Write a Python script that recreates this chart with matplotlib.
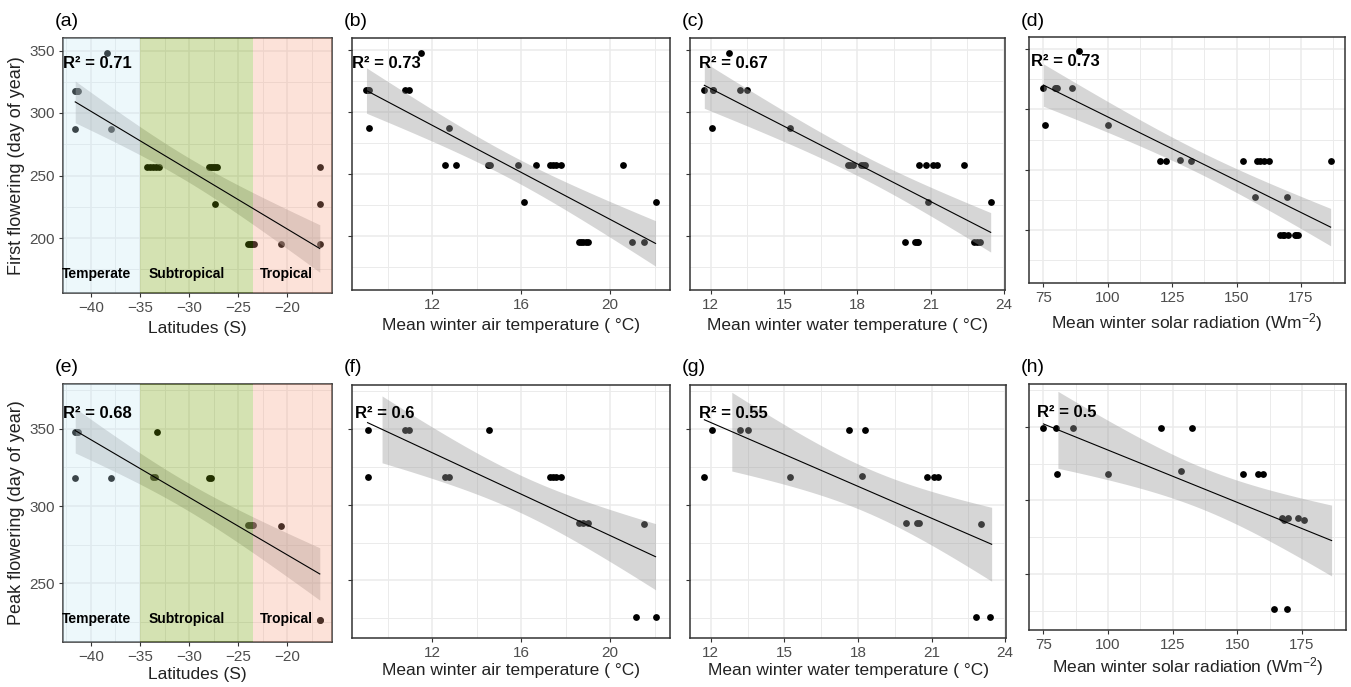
import matplotlib
matplotlib.use("Agg")
import matplotlib.pyplot as plt
import matplotlib.ticker as mticker
import numpy as np

plt.rcParams.update({
    "font.family": ["Liberation Sans", "DejaVu Sans"],
    "mathtext.fontset": "custom",
    "mathtext.rm": "Liberation Sans",
    "mathtext.it": "Liberation Sans:italic",
    "mathtext.bf": "Liberation Sans:bold",
    "axes.edgecolor": "#333333",
    "axes.linewidth": 1.1,
    "xtick.color": "#333333",
    "ytick.color": "#333333",
    "xtick.labelcolor": "#4d4d4d",
    "ytick.labelcolor": "#4d4d4d",
})

# ---- first flowering (top row) ----
FF_LAT = [-38.4, -41.6, -41.5, -41.45, -41.4, -41.3, -41.6, -38.0,
          -34.3, -34.0, -33.7, -33.4, -33.1, -28.0, -27.8, -27.6, -27.4, -27.2, -16.7,
          -27.4, -16.7, -24.0, -23.8, -23.7, -23.6, -23.4, -20.6, -16.7]
FF_LAT_DOY = [348, 318, 318, 318, 318, 318, 287, 287,
              257, 257, 257, 257, 257, 257, 257, 257, 257, 257, 257,
              227, 227, 195, 195, 195, 195, 195, 195, 195]

FF_AIR = [11.5, 9.05, 9.1, 9.15, 10.8, 10.95, 9.15, 12.75,
          12.6, 13.08, 14.5, 14.6, 15.84, 16.65, 17.3, 17.45, 17.56, 17.8, 20.6,
          16.14, 22.04, 18.6, 18.7, 18.8, 18.9, 19.0, 21.0, 21.5]
FF_AIR_DOY = FF_LAT_DOY

FF_WATER = [12.75, 11.74, 12.08, 12.1, 13.18, 13.5, 12.06, 15.24,
            17.62, 17.7, 17.8, 18.15, 18.22, 18.3, 20.5, 20.8, 21.1, 21.25, 22.36,
            20.9, 23.45, 19.94, 20.37, 20.42, 20.47, 22.77, 22.9, 23.03]
FF_WATER_DOY = FF_LAT_DOY

FF_SOLAR = [88.8, 75.0, 79.5, 80.0, 80.2, 86.2, 75.5, 100.0,
            120.4, 122.5, 127.9, 132.4, 152.4, 157.9, 159.2, 160.5, 162.7, 186.5,
            157.2, 169.4, 167.0, 168.0, 168.5, 169.8, 172.5, 173.0, 174.0]
FF_SOLAR_DOY = [348, 318, 318, 318, 318, 318, 287, 287,
                257, 257, 258, 257, 257, 257, 257, 257, 257, 257,
                227, 227, 196, 196, 196, 196, 196, 196, 196]

# ---- peak flowering (bottom row) ----
PF_LAT = [-41.6, -41.5, -41.4, -41.3, -33.3, -41.6, -38.0, -33.7, -33.5, -28.0, -27.8,
          -24.0, -23.8, -23.6, -23.5, -20.6, -16.7, -16.7]
PF_LAT_DOY = [348, 348, 348, 348, 348, 318, 318, 319, 319, 318, 318,
              288, 288, 288, 288, 287, 226, 226]

PF_AIR = [9.12, 10.8, 10.95, 14.54, 9.1, 12.6, 12.75, 17.3, 17.45, 17.56, 17.8,
          18.6, 18.8, 19.0, 21.5, 21.14, 22.04]
PF_AIR_DOY = [349, 349, 349, 349, 318, 318, 318, 318, 318, 318, 318,
              288, 288, 288, 287, 226, 226]

PF_WATER = [12.06, 13.18, 13.5, 17.62, 18.3, 11.74, 15.24, 18.15, 20.8, 21.1, 21.25,
            19.94, 20.4, 20.47, 23.03, 22.82, 23.4]
PF_WATER_DOY = [349, 349, 349, 349, 349, 318, 318, 319, 318, 318, 318,
                288, 288, 288, 287, 226, 226]

PF_SOLAR = [75.0, 79.8, 86.4, 120.6, 132.4, 80.3, 100.0, 128.4, 152.4, 157.9, 159.9,
            167.2, 168.1, 169.8, 173.4, 176.0, 164.3, 169.4]
PF_SOLAR_DOY = [349, 349, 349, 349, 349, 318, 318, 320, 318, 318, 318,
                288, 287, 288, 288, 287, 226, 226]

R2_FIRST = ["0.71", "0.73", "0.67", "0.73"]
R2_PEAK = ["0.68", "0.6", "0.55", "0.5"]

XLABELS = ["Latitudes (S)", "Mean winter air temperature ( °C)",
           "Mean winter water temperature ( °C)", "Mean winter solar radiation (Wm$^{-2}$)"]
YLABELS = ["First flowering (day of year)", "Peak flowering (day of year)"]
PANEL_TAGS = ["(a)", "(b)", "(c)", "(d)", "(e)", "(f)", "(g)", "(h)"]

ZONE_NAMES = ["Temperate", "Subtropical", "Tropical"]
ZONE_BOUNDS = [-35.0, -23.5]
ZONE_COLORS = ["#c6e8f5", "#73a200", "#f8a284"]
ZONE_LABEL_X = [-39.4, -30.2, -20.1]

TOP = [(FF_LAT, FF_LAT_DOY), (FF_AIR, FF_AIR_DOY), (FF_WATER, FF_WATER_DOY), (FF_SOLAR, FF_SOLAR_DOY)]
BOTTOM = [(PF_LAT, PF_LAT_DOY), (PF_AIR, PF_AIR_DOY), (PF_WATER, PF_WATER_DOY), (PF_SOLAR, PF_SOLAR_DOY)]

W, H = 1351, 687
# panel boxes in pixels: left, top, right, bottom
BOXES = [(63, 38, 332, 293), (352, 38, 670, 290), (690, 38, 1005, 290), (1029, 37, 1345, 283),
         (63, 384, 332, 642), (352, 385, 670, 638), (690, 385, 1006, 638), (1029, 384, 1346, 630)]
R2_XPOS = [0.0, 0.0, 0.03, 0.006, 0.0, 0.01, 0.03, 0.024]
BAND_FROM = [None, None, None, None, None, 9.7, 12.8, 80.2]
MAJOR = [5, 4, 3, 25]
YLIMS = [(156, 360), (212, 379)]
YTICKS = [[200, 250, 300, 350], [250, 300, 350]]
ZONE_TEXT_Y = [171, 227]


def t975(df):
    z = 1.959964
    g1 = (z**3 + z) / 4
    g2 = (5 * z**5 + 16 * z**3 + 3 * z) / 96
    g3 = (3 * z**7 + 19 * z**5 + 17 * z**3 - 15 * z) / 384
    return z + g1 / df + g2 / df**2 + g3 / df**3


def fit_band(x, y, xs):
    x = np.asarray(x, float)
    y = np.asarray(y, float)
    n = len(x)
    slope, icpt = np.polyfit(x, y, 1)
    s = np.sqrt(np.sum((y - (icpt + slope * x))**2) / (n - 2))
    sxx = np.sum((x - x.mean())**2)
    se = s * np.sqrt(1 / n + (xs - x.mean())**2 / sxx)
    yhat = icpt + slope * xs
    t = t975(n - 2)
    return yhat, yhat - t * se, yhat + t * se


fig = plt.figure(figsize=(W / 100, H / 100), dpi=100)

for i in range(8):
    row, col = divmod(i, 4)
    l, t, r, b = BOXES[i]
    ax = fig.add_axes([l / W, 1 - b / H, (r - l) / W, (b - t) / H])
    x, y = (TOP if row == 0 else BOTTOM)[col]
    col_x = np.array(TOP[col][0] + BOTTOM[col][0], float)
    lo, hi = col_x.min(), col_x.max()
    pad = 0.05 * (hi - lo)
    ax.set_xlim(lo - pad, hi + pad)
    ax.set_ylim(*YLIMS[row])

    ax.set_axisbelow(True)
    ax.xaxis.set_major_locator(mticker.MultipleLocator(MAJOR[col]))
    ax.xaxis.set_minor_locator(mticker.MultipleLocator(MAJOR[col] / 2))
    ax.set_yticks(YTICKS[row])
    ax.yaxis.set_minor_locator(mticker.MultipleLocator(25))
    ax.grid(which="major", color="#ebebeb", lw=1.1)
    ax.grid(which="minor", color="#ebebeb", lw=0.7)
    ax.tick_params(which="major", direction="out", length=3, width=0.8, labelsize=11, pad=3)
    ax.tick_params(which="minor", length=0)
    if col != 0:
        ax.tick_params(axis="y", labelleft=False)

    ax.scatter(x, y, s=24, color="black", linewidths=0, zorder=2)

    xs = np.linspace(min(x), hi, 200)
    yhat, ylo, yhi = fit_band(x, y, xs)
    mask = xs >= (BAND_FROM[i] if BAND_FROM[i] is not None else -np.inf)
    ax.fill_between(xs[mask], ylo[mask], yhi[mask], color="#999999", alpha=0.4, lw=0, zorder=3)
    ax.plot(xs, yhat, color="black", lw=0.8, zorder=5)

    if col == 0:
        edges = [lo - pad] + ZONE_BOUNDS + [hi + pad]
        for k in range(3):
            ax.axvspan(edges[k], edges[k + 1], color=ZONE_COLORS[k], alpha=0.3, lw=0, zorder=4)
            ax.text(ZONE_LABEL_X[k], ZONE_TEXT_Y[row], ZONE_NAMES[k], ha="center", va="center",
                    fontsize=10, fontweight="bold", color="black", zorder=6)
        ax.set_ylabel(YLABELS[row], fontsize=13, color="#222222", labelpad=3)

    r2 = (R2_FIRST if row == 0 else R2_PEAK)[col]
    ax.text(R2_XPOS[i], 0.90 if row == 0 else 0.886, f"R² = {r2}", transform=ax.transAxes,
            ha="left", va="center", fontsize=12, fontweight="bold", color="black", zorder=6)

    ax.set_xlabel(XLABELS[col], fontsize=12.5, color="#222222", labelpad=4 if row == 0 else 2)
    fig.text((l - 8) / W, 1 - (22 if row == 0 else 368) / H, PANEL_TAGS[i],
             ha="left", va="center", fontsize=14, color="black")

fig.savefig("out.png", dpi=100, facecolor="white")
